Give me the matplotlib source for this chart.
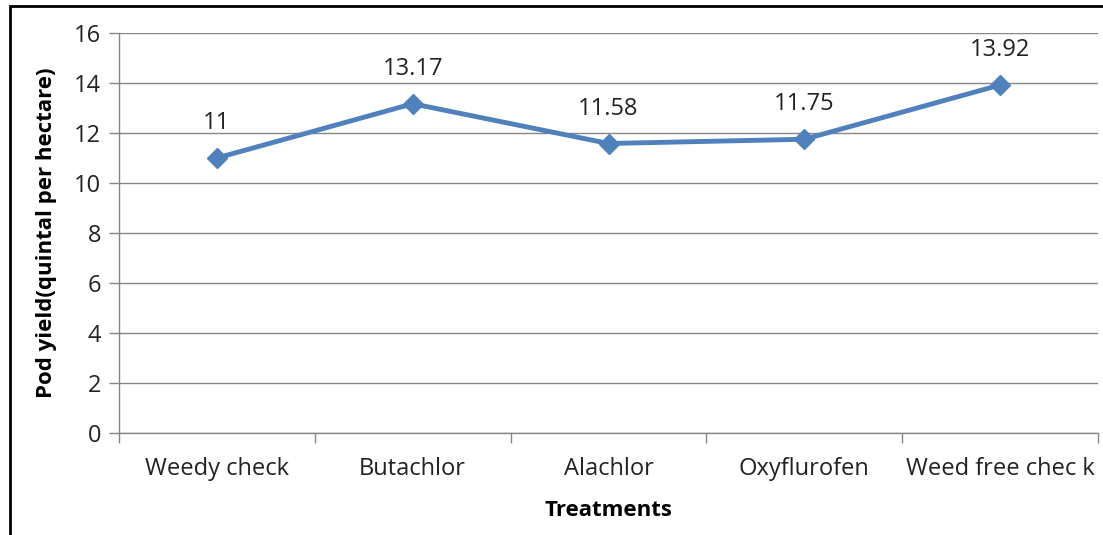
import matplotlib.pyplot as plt
from matplotlib.patches import Rectangle
from matplotlib.ticker import FixedLocator, NullFormatter

treatments = ["Weedy check", "Butachlor", "Alachlor", "Oxyflurofen", "Weed free chec k"]
pod_yield = [11, 13.17, 11.58, 11.75, 13.92]
value_labels = ["11", "13.17", "11.58", "11.75", "13.92"]
y_ticks = [0, 2, 4, 6, 8, 10, 12, 14, 16]

plt.rcParams['font.family'] = ['Open Sans', 'DejaVu Sans']

W, H = 1103, 535
fig = plt.figure(figsize=(W / 100, H / 100), dpi=100)

# outer chart frame (only left and top edges visible in the crop)
fig.patches.append(Rectangle((10 / W, -0.05), 1.2, 1 - 6 / H + 0.05,
                             transform=fig.transFigure, fill=False,
                             edgecolor='black', linewidth=2))

ax = fig.add_axes([119 / W, (H - 433) / H, (1098 - 119) / W, 400 / H])

x = list(range(len(treatments)))
ax.plot(x, pod_yield, color='#4F81BD', linewidth=3.5, marker='D',
        markersize=10, zorder=3)

for xi, v, lab in zip(x, pod_yield, value_labels):
    ax.annotate(lab, (xi, v), xytext=(0, 16.5), textcoords='offset points',
                ha='center', va='bottom', fontsize=17, color='#222222')

ax.set_xlim(-0.5, len(treatments) - 0.5)
ax.set_ylim(0, 16)
ax.set_yticks(y_ticks)
ax.set_yticklabels([str(t) for t in y_ticks], fontsize=17, color='#222222')
ax.grid(axis='y', color='#868686', linewidth=1)
ax.set_axisbelow(True)

ax.set_xticks(x)
ax.set_xticklabels(treatments, fontsize=17, color='#222222')
ax.tick_params(axis='x', length=0, pad=17)
ax.xaxis.set_minor_locator(FixedLocator([i - 0.5 for i in range(len(treatments) + 1)]))
ax.xaxis.set_minor_formatter(NullFormatter())
ax.tick_params(axis='x', which='minor', length=7, color='#868686', width=1)
ax.tick_params(axis='y', length=7, color='#868686', width=1, pad=6)

for s in ['top', 'right']:
    ax.spines[s].set_visible(False)
for s in ['left', 'bottom']:
    ax.spines[s].set_color('#868686')
    ax.spines[s].set_linewidth(1)

ax.set_xlabel("Treatments", fontsize=16, fontweight='bold', labelpad=14)
ax.set_ylabel("Pod yield(quintal per hectare)", fontsize=16, fontweight='bold', labelpad=12)

fig.savefig("out.png", dpi=100)
